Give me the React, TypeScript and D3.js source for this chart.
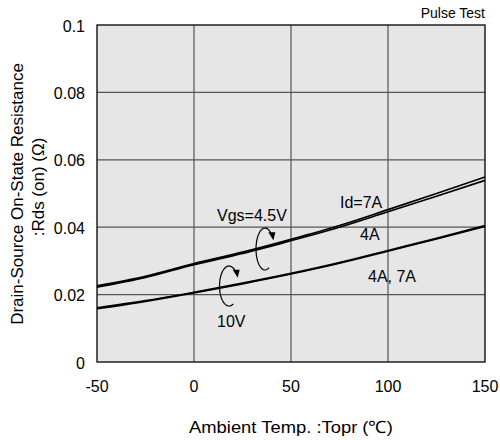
import React, { useEffect, useRef } from "react";
import * as d3 from "d3";

// Ambient temperature (°C) sample points
const temps = [-50, -25, 0, 25, 50, 75, 100, 125, 150];

// Rds(on) in ohms
const vgs45Id7A = [0.0226, 0.0254, 0.0292, 0.0326, 0.0364, 0.0405, 0.0452, 0.05, 0.0549];
const vgs45Id4A = [0.0222, 0.0251, 0.0289, 0.0322, 0.036, 0.04, 0.0446, 0.0492, 0.0539];
const vgs10Id7A = [0.0161, 0.0182, 0.0207, 0.0234, 0.0263, 0.0295, 0.0331, 0.0367, 0.0405];
const vgs10Id4A = [0.0158, 0.018, 0.0205, 0.0232, 0.0261, 0.0293, 0.0329, 0.0365, 0.0402];

const xTicks = [-50, 0, 50, 100, 150];
const yTicks = [0, 0.02, 0.04, 0.06, 0.08, 0.1];
const yTickLabels = ["0", "0.02", "0.04", "0.06", "0.08", "0.1"];

const FONT = "'Liberation Sans', Arial, Helvetica, sans-serif";

export default function App() {
    const ref = useRef<SVGSVGElement | null>(null);

    useEffect(() => {
        const width = 500;
        const height = 440;
        const margin = { left: 97, right: 15, top: 25, bottom: 78 };

        const svg = d3.select(ref.current);
        svg.selectAll("*").remove();
        svg.attr("width", width).attr("height", height);

        const x = d3.scaleLinear().domain([-50, 150]).range([margin.left, width - margin.right]);
        const y = d3.scaleLinear().domain([0, 0.1]).range([height - margin.bottom, margin.top]);

        svg.append("rect")
            .attr("width", width)
            .attr("height", height)
            .attr("fill", "#fff");

        // plot background
        svg.append("rect")
            .attr("x", x(-50))
            .attr("y", y(0.1))
            .attr("width", x(150) - x(-50))
            .attr("height", y(0) - y(0.1))
            .attr("fill", "#e6e6e6");

        // grid
        const grid = svg.append("g").attr("stroke", "#555").attr("stroke-width", 1.2);
        grid.selectAll("line.v")
            .data(xTicks.slice(1, -1))
            .join("line")
            .attr("class", "v")
            .attr("x1", (d) => x(d))
            .attr("x2", (d) => x(d))
            .attr("y1", y(0))
            .attr("y2", y(0.1));
        grid.selectAll("line.h")
            .data(yTicks.slice(1, -1))
            .join("line")
            .attr("class", "h")
            .attr("x1", x(-50))
            .attr("x2", x(150))
            .attr("y1", (d) => y(d))
            .attr("y2", (d) => y(d));

        // curves
        const line = d3
            .line<number>()
            .x((_, i) => x(temps[i]))
            .y((d) => y(d))
            .curve(d3.curveMonotoneX);

        const plot = svg.append("g");
        [vgs45Id7A, vgs45Id4A, vgs10Id7A, vgs10Id4A].forEach((s) => {
            plot.append("path")
                .attr("d", line(s))
                .attr("fill", "none")
                .attr("stroke", "#000")
                .attr("stroke-width", 1.7);
        });

        // frame
        svg.append("rect")
            .attr("x", x(-50))
            .attr("y", y(0.1))
            .attr("width", x(150) - x(-50))
            .attr("height", y(0) - y(0.1))
            .attr("fill", "none")
            .attr("stroke", "#000")
            .attr("stroke-width", 1.3);

        // tick labels
        svg.append("g")
            .selectAll("text")
            .data(yTicks)
            .join("text")
            .attr("x", x(-50) - 12)
            .attr("y", (d) => y(d) + 6.5)
            .attr("text-anchor", "end")
            .attr("font-family", FONT)
            .attr("font-size", 16)
            .text((_, i) => yTickLabels[i]);

        svg.append("g")
            .selectAll("text")
            .data(xTicks)
            .join("text")
            .attr("x", (d) => x(d))
            .attr("y", y(0) + 30)
            .attr("text-anchor", "middle")
            .attr("font-family", FONT)
            .attr("font-size", 16)
            .text((d) => String(d));

        // axis titles
        svg.append("text")
            .attr("x", 291)
            .attr("y", 433)
            .attr("text-anchor", "middle")
            .attr("font-family", FONT)
            .attr("font-size", 17)
            .attr("textLength", 204)
            .attr("lengthAdjust", "spacingAndGlyphs")
            .text("Ambient Temp. :Topr (\u2103)");

        svg.append("text")
            .attr("transform", "translate(23, 194) rotate(-90)")
            .attr("text-anchor", "middle")
            .attr("font-family", FONT)
            .attr("font-size", 17)
            .text("Drain-Source On-State Resistance");
        svg.append("text")
            .attr("transform", "translate(44, 187) rotate(-90)")
            .attr("text-anchor", "middle")
            .attr("font-family", FONT)
            .attr("font-size", 17)
            .text(":Rds (on) (\u03a9)");

        svg.append("text")
            .attr("x", x(150))
            .attr("y", 18)
            .attr("text-anchor", "end")
            .attr("font-family", FONT)
            .attr("font-size", 14)
            .text("Pulse Test");

        // annotations
        const note = (tx: number, ty: number, s: string) =>
            svg.append("text")
                .attr("x", tx)
                .attr("y", ty)
                .attr("font-family", FONT)
                .attr("font-size", 16)
                .text(s);
        note(217, 221, "Vgs=4.5V");
        note(217, 327, "10V");
        note(340, 208, "Id=7A");
        note(360, 240, "4A");
        note(368, 282, "4A, 7A");

        // circular arrows around curve pairs
        const loop = (cx: number, cy: number, rx: number, ry: number) => {
            const a0 = 0.35 * Math.PI;
            const a1 = 2 * Math.PI - 0.25 * Math.PI;
            const pts = d3.range(0, 41).map((k) => {
                const a = a0 + ((a1 - a0) * k) / 40;
                return [cx + rx * Math.cos(a), cy + ry * Math.sin(a)] as [number, number];
            });
            svg.append("path")
                .attr("d", d3.line()(pts))
                .attr("fill", "none")
                .attr("stroke", "#000")
                .attr("stroke-width", 1.2);
            const [ex, ey] = pts[pts.length - 1];
            svg.append("path")
                .attr("d", `M${ex - 3},${ey - 2} L${ex + 4},${ey - 2} L${ex + 2},${ey + 6} Z`)
                .attr("fill", "#000");
        };
        loop(265, 249, 9, 21);
        loop(229, 286, 9.5, 20);
    }, []);

    return <svg ref={ref} style={{ display: "block", position: "fixed", left: 0, top: 0 }}></svg>;
}
